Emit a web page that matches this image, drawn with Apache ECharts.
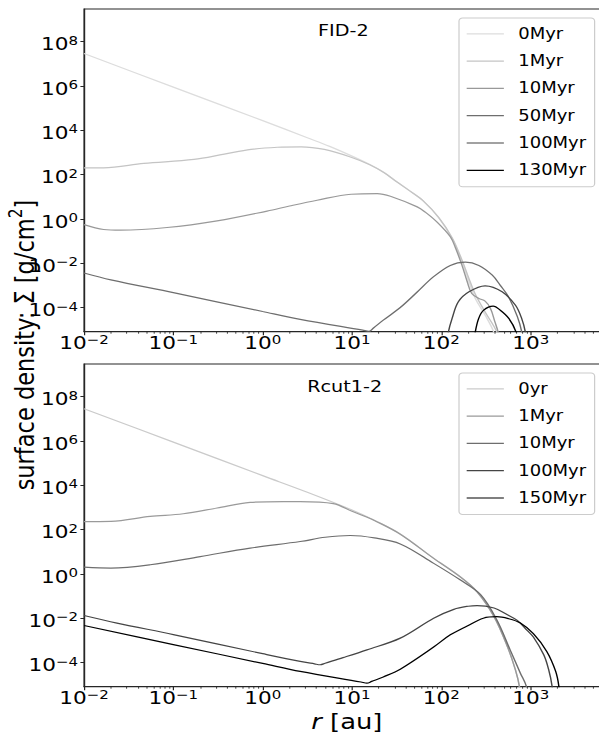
<!DOCTYPE html>
<html>
<head>
<meta charset="utf-8">
<script src="https://cdn.jsdelivr.net/npm/echarts@6/dist/echarts.min.js"></script>
<style>
  html, body { margin: 0; padding: 0; overflow: hidden; background: #fff; }
  /* the figure is laid out 500 px wide and widened to the page */
  #chart { position: absolute; left: 0; top: 0; width: 500px; height: 735px;
           transform: scaleX(1.2); transform-origin: 0 0; }
</style>
</head>
<body>
<div id="chart"></div>
<script>
// ---- surface density profiles, [r (au), Sigma (g/cm^2)] ----
// FID-2
const FID2_0Myr = [[0.01,2.88e7],[0.1,8.71e5],[1,2.69e4],[3.16,4.57e3],[5.62,1.86e3],[10,676],[15.8,282],
  [22.9,123],[31.6,47.9],[44.7,17.8],[63.1,6.31],[93.3,1.12],[132,0.129],[170,1.15e-2],[204,1.45e-3],
  [240,2.57e-4],[309,4.57e-5],[385,7.94e-6],[417,1.58e-6]];
const FID2_1Myr = [[0.01,200],[0.0166,200],[0.0468,316],[0.17,479],[0.372,832],[0.741,1.35e3],[1.46,1.70e3],
  [2.69,1.78e3],[4.90,1.35e3],[9.77,603],[15.8,275],[22.9,120],[31.6,46.8],[44.7,17.8],[63.1,6.31],
  [93.3,1.17],[132,0.141],[170,1.41e-2],[204,2.0e-3],[240,3.98e-4],[309,6.31e-5],[417,7.94e-6],[447,1.58e-6]];
const FID2_10Myr = [[0.01,0.55],[0.0166,0.331],[0.0257,0.309],[0.0851,0.407],[0.309,0.813],[1.12,2.24],
  [2,3.80],[4.07,6.92],[9.77,12.9],[19.1,13.8],[26.9,10.5],[53.7,3.47],[66.1,2.0],
  [89.1,0.724],[126,0.155],[145,4.57e-2],[170,8.13e-3],[195,1.45e-3],[219,4.27e-4],[263,2.57e-4],
  [309,1.95e-4],[355,9.12e-5],[398,2.24e-5],[431,7.94e-6],[457,1.58e-6]];
const FID2_50Myr = [[0.01,3.63e-3],[0.02,1.78e-3],[0.1,4.68e-4],[1,6.61e-5],[2.63,2.95e-5],[13.2,9.55e-6],
  [15.5,8.51e-6],[17.4,1.20e-5],[22.4,2.69e-5],[34.7,1.0e-4],[53.7,5.01e-4],[81.3,2.40e-3],[126,7.94e-3],
  [186,1.12e-2],[263,7.94e-3],[372,2.88e-3],[457,1.0e-3],[562,3.16e-4],[708,3.98e-5],[794,7.94e-6],[832,1.58e-6]];
const FID2_100Myr = [[117,2.51e-6],[120,7.94e-6],[132,3.24e-5],[155,1.82e-4],[204,5.13e-4],[309,9.55e-4],
  [479,5.13e-4],[676,1.26e-4],[794,3.16e-5],[871,7.94e-6],[891,2.51e-6]];
const FID2_130Myr = [[234,2.51e-6],[240,7.94e-6],[262,3.24e-5],[298,7.59e-5],[380,1.15e-4],[457,7.59e-5],
  [569,3.24e-5],[685,7.94e-6],[708,2.51e-6]];

// Rcut1-2
const RCUT_0yr = [[0.01,2.82e7],[0.1,8.71e5],[1,2.69e4],[3.16,4.79e3],[10,759],[17.8,263],[34.7,63.1],
  [81.3,5.25],[162,0.759],[251,0.158],[389,1.20e-2],[550,5.25e-4],[676,4.68e-5],[748,8.32e-6],[776,1.58e-6]];
const RCUT_1Myr = [[0.01,229],[0.02,234],[0.055,389],[0.129,513],[0.309,933],[0.724,1.66e3],[1.70,1.82e3],
  [2.63,1.82e3],[6.17,1.48e3],[10,661],[14.8,355],[17.8,257],[34.7,61.7],[81.3,5.13],[162,0.741],
  [251,0.155],[389,1.17e-2],[550,5.13e-4],[676,4.57e-5],[748,8.32e-6],[776,1.58e-6]];
const RCUT_10Myr = [[0.01,2.0],[0.02,1.82],[0.055,2.57],[0.2,6.03],[0.724,14.5],[2.63,28.8],[5.01,44.7],
  [9.55,53.7],[17.8,41.7],[34.7,22.4],[81.3,3.05],[162,0.537],[275,0.115],[417,8.51e-3],[589,3.72e-4],
  [767,3.31e-5],[895,8.32e-6],[933,1.58e-6]];
const RCUT_100Myr = [[0.01,1.32e-2],[0.0234,6.03e-3],[0.1,1.82e-3],[1,2.51e-4],[2.63,1.12e-4],[3.80,8.71e-5],
  [4.41,7.94e-5],[5.01,9.33e-5],[7.94,1.66e-4],[14.7,3.72e-4],[34.7,1.26e-3],[82.0,1.0e-2],[138,2.51e-2],
  [200,3.47e-2],[251,3.72e-2],[389,2.88e-2],[525,1.58e-2],[708,7.94e-3],[912,2.82e-3],[1072,1.41e-3],
  [1400,2.24e-4],[1585,5.01e-5],[1738,8.32e-6],[1778,1.58e-6]];
const RCUT_150Myr = [[0.01,4.68e-3],[0.1,6.46e-4],[1,9.12e-5],[2.63,3.98e-5],[12.6,1.32e-5],[14.7,1.17e-5],
  [16.6,1.41e-5],[22.4,2.24e-5],[34.7,5.01e-5],[82.0,5.01e-4],[126,1.78e-3],[195,4.47e-3],[295,1.0e-2],
  [417,1.17e-2],[562,9.55e-3],[767,6.03e-3],[1072,2.0e-3],[1514,3.16e-4],[1905,3.98e-5],[2070,8.32e-6],
  [2138,1.58e-6]];

// ---- labels ----
const FID2_LABELS = ['0Myr', '1Myr', '10Myr', '50Myr', '100Myr', '130Myr'];
const RCUT_LABELS = ['0yr', '1Myr', '10Myr', '100Myr', '150Myr'];
const FID2_DATA = [FID2_0Myr, FID2_1Myr, FID2_10Myr, FID2_50Myr, FID2_100Myr, FID2_130Myr];
const RCUT_DATA = [RCUT_0yr, RCUT_1Myr, RCUT_10Myr, RCUT_100Myr, RCUT_150Myr];
const PANEL_TITLES = ['FID-2', 'Rcut1-2'];

// axis ticks and limits
const X_MAJOR = [0.01, 0.1, 1, 10, 100, 1000];
const Y_MAJOR = [1e-4, 1e-2, 1, 1e2, 1e4, 1e6, 1e8];
const X_MIN = 0.01, X_MAX = 5970;
const Y_MIN = 8.13e-6, Y_MAX = 2.92e9;

// ---- styles ----
const FID2_COLORS = ['#dddddd', '#c4c4c4', '#999999', '#6e6e6e', '#454545', '#000000'];
const RCUT_COLORS = ['#cbcbcb', '#9a9a9a', '#6e6e6e', '#454545', '#000000'];
const FONT = 'DejaVu Sans';
const AXIS_COLOR = '#262626';

const X_MINOR = [];
X_MAJOR.forEach(d => { for (let k = 2; k <= 9; k++) { const v = k * d; if (v < X_MAX) X_MINOR.push(v); } });

function powLabel(v) {
  const e = Math.round(Math.log10(v));
  return '{b|10}{s|' + (e < 0 ? '\u2212' + (-e) : String(e)) + '}';
}
const tickRich = {
  b: { fontFamily: FONT, fontSize: 18, lineHeight: 20, verticalAlign: 'bottom', color: '#000' },
  s: { fontFamily: FONT, fontSize: 12.5, lineHeight: 10, verticalAlign: 'top', color: '#000' }
};

const GRIDS = [
  { left: 70, top: 9, width: 430, height: 322.7 },
  { left: 70, top: 364, width: 430, height: 322.7 }
];

function mainX(gi) {
  return {
    type: 'log', gridIndex: gi, min: X_MIN, max: X_MAX, position: 'bottom',
    axisLine: { show: true, onZero: false, lineStyle: { color: AXIS_COLOR, width: 1 } },
    axisTick: { show: true, length: 3.5, customValues: X_MAJOR, lineStyle: { color: AXIS_COLOR, width: 1 } },
    axisLabel: { show: true, customValues: X_MAJOR, formatter: powLabel, rich: tickRich, margin: 0.9, hideOverlap: false },
    splitLine: { show: false }, minorTick: { show: false }
  };
}
function minorX(gi) {
  return {
    type: 'log', gridIndex: gi, min: X_MIN, max: X_MAX, position: 'bottom',
    axisLine: { show: false },
    axisTick: { show: true, length: 2, customValues: X_MINOR, lineStyle: { color: AXIS_COLOR, width: 0.8 } },
    axisLabel: { show: false }, splitLine: { show: false }
  };
}
function mainY(gi) {
  return {
    type: 'log', gridIndex: gi, min: Y_MIN, max: Y_MAX,
    axisLine: { show: true, onZero: false, lineStyle: { color: AXIS_COLOR, width: 1 } },
    axisTick: { show: true, length: 3, customValues: Y_MAJOR, lineStyle: { color: AXIS_COLOR, width: 1 } },
    axisLabel: { show: true, customValues: Y_MAJOR, formatter: powLabel, rich: tickRich, margin: 5, padding: [4, 0, 0, 0] },
    splitLine: { show: false }, minorTick: { show: false }
  };
}

const series = [];
function addPanel(gi, labels, data, colors) {
  labels.forEach((lab, i) => {
    series.push({
      type: 'line', name: PANEL_TITLES[gi] + '|' + lab,
      xAxisIndex: gi, yAxisIndex: gi, data: data[i],
      symbol: 'none', smooth: 0.35, clip: true, silent: true,
      lineStyle: { color: colors[i], width: 1.2 },
      itemStyle: { color: colors[i] }
    });
  });
}
addPanel(0, FID2_LABELS, FID2_DATA, FID2_COLORS);
addPanel(1, RCUT_LABELS, RCUT_DATA, RCUT_COLORS);

function legendFor(gi, labels, top) {
  return {
    orient: 'vertical', left: 382.5, top: top,
    data: labels.map(l => PANEL_TITLES[gi] + '|' + l),
    formatter: n => '{t|' + n.split('|')[1] + '}',
    itemWidth: 31, itemHeight: 14, itemGap: 12.3,
    padding: [8.3, 7, 9, 5.8],
    borderColor: '#cccccc', borderWidth: 1, borderRadius: 3,
    backgroundColor: 'rgba(255,255,255,0.8)',
    selectedMode: false,
    itemStyle: { opacity: 0 },
    lineStyle: { width: 1.2 },
    textStyle: { rich: { t: { fontFamily: FONT, fontSize: 15, lineHeight: 14, color: '#000', padding: [0, 0, 0, 7] } } }
  };
}

const chart = echarts.init(document.getElementById('chart'), null, { renderer: 'svg' });
chart.setOption({
  animation: false,
  backgroundColor: '#ffffff',
  grid: GRIDS.map(g => Object.assign({ show: true, borderColor: AXIS_COLOR, borderWidth: 1, backgroundColor: 'transparent' }, g)),
  xAxis: [mainX(0), mainX(1), minorX(0), minorX(1)],
  yAxis: [mainY(0), mainY(1)],
  legend: [legendFor(0, FID2_LABELS, 18), legendFor(1, RCUT_LABELS, 373)],
  series: series,
  graphic: [
    { type: 'text', x: 265, y: 31, style: { text: PANEL_TITLES[0], fontFamily: FONT, fontSize: 16, fill: '#000', align: 'left', verticalAlign: 'middle' } },
    { type: 'text', x: 256, y: 387, style: { text: PANEL_TITLES[1], fontFamily: FONT, fontSize: 16, fill: '#000', align: 'left', verticalAlign: 'middle' } },
    { type: 'text', x: 18.5, y: 345, rotation: Math.PI / 2,
      style: { text: '{n|surface density: \u03a3 [g/cm}{s|2}{n|]}', align: 'center', verticalAlign: 'middle',
        fontFamily: FONT, fontSize: 22.5, fill: '#000',
        rich: { n: { fontFamily: FONT, fontSize: 22.5, lineHeight: 28, verticalAlign: 'bottom', fill: '#000' },
                s: { fontFamily: FONT, fontSize: 15.5, lineHeight: 16, verticalAlign: 'top', fill: '#000' } } } },
    { type: 'text', x: 289, y: 721.5,
      style: { text: '{i|r}{n| [au]}', align: 'center', verticalAlign: 'middle', fontFamily: FONT, fontSize: 21.5, fill: '#000',
        rich: { i: { fontFamily: FONT, fontSize: 21.5, lineHeight: 20, fontStyle: 'italic', fill: '#000' },
                n: { fontFamily: FONT, fontSize: 21.5, lineHeight: 20, fill: '#000' } } } }
  ]
});
</script>
</body>
</html>
